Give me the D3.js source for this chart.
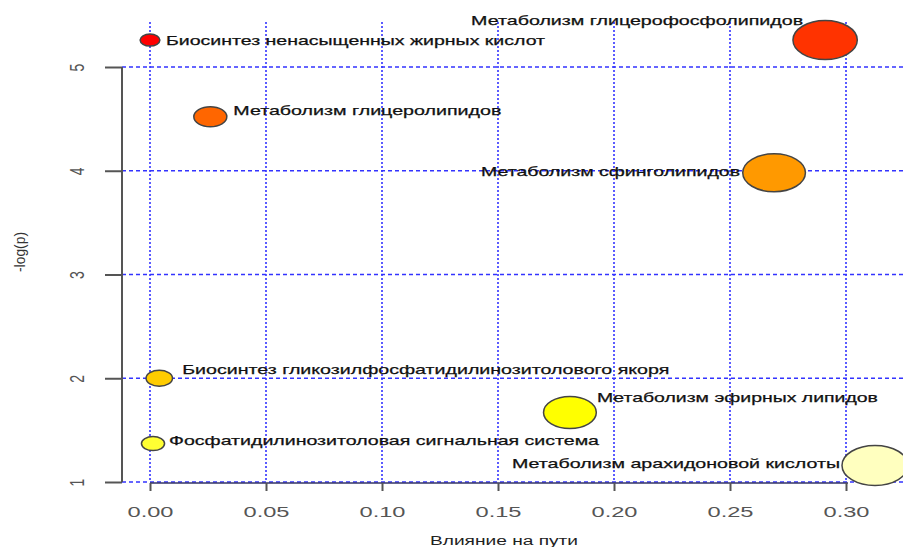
<!DOCTYPE html>
<html>
<head>
<meta charset="utf-8">
<script src="https://cdn.jsdelivr.net/npm/d3@7"></script>
<style>
  body { margin: 0; background: #fff; }
  svg { display: block; font-family: "Liberation Sans", Arial, sans-serif; }
  .lbl { font-size: 13px; fill: #111; stroke: #111; stroke-width: 0.25px; }
</style>
</head>
<body>
<svg id="chart"></svg>
<script>
// pathway impact plot (-log(p) vs pathway impact)
const pathways = [
  'Биосинтез ненасыщенных жирных кислот',
  'Метаболизм глицерофосфолипидов',
  'Метаболизм глицеролипидов',
  'Метаболизм сфинголипидов',
  'Биосинтез гликозилфосфатидилинозитолового якоря',
  'Метаболизм эфирных липидов',
  'Фосфатидилинозитоловая сигнальная система',
  'Метаболизм арахидоновой кислоты'
];
const impact = [0.0, 0.291, 0.026, 0.269, 0.004, 0.181, 0.0013, 0.3125];
const logP = [5.26, 5.26, 4.52, 3.98, 2.0, 1.67, 1.37, 1.16];
const bubbleSize = [6, 19.5, 10, 19, 8, 16, 7, 20];
const colors = ['#ff0000', '#ff3300', '#ff6600', '#ff9900', '#ffcc00', '#ffff00', '#ffff33', '#ffffbf'];

const xTicks = [0, 0.05, 0.10, 0.15, 0.20, 0.25, 0.30];
const yTicks = [1, 2, 3, 4, 5];

// label placement: anchor side + nudge (px), width of label text
const labelLayout = [
  {anchor: 'start', dx: 16, dy: 0,   w: 379},
  {anchor: 'end',   dx: -22, dy: -20, w: 332},
  {anchor: 'start', dx: 23, dy: -6,  w: 268},
  {anchor: 'end',   dx: -34, dy: -1, w: 259},
  {anchor: 'start', dx: 23, dy: -9,  w: 487},
  {anchor: 'start', dx: 27, dy: -15, w: 281},
  {anchor: 'start', dx: 16, dy: -3,  w: 430},
  {anchor: 'end',   dx: -35, dy: -2, w: 328}
];

const width = 903, height = 547;
const aspect = 1.65; // plot is stretched horizontally

const svg = d3.select('#chart')
  .attr('width', width)
  .attr('height', height);

const x = d3.scaleLinear().domain([0, 0.30]).range([150, 846]);
const y = d3.scaleLinear().domain([1, 5]).range([482, 67]);

const grid = svg.append('g').attr('class', 'grid');

grid.selectAll('.hgrid')
  .data(yTicks)
  .join('line')
    .attr('class', 'hgrid')
    .attr('x1', 122).attr('x2', width)
    .attr('y1', d => y(d)).attr('y2', d => y(d))
    .attr('stroke', '#3333ff')
    .attr('stroke-width', 1.3)
    .attr('stroke-dasharray', '4,3');

// x axis baseline
svg.append('line')
  .attr('x1', x(0)).attr('x2', x(0.30) + 2)
  .attr('y1', y(1) + 1).attr('y2', y(1) + 1)
  .attr('stroke', '#333366')
  .attr('stroke-width', 1.3);

grid.selectAll('.vgrid')
  .data(xTicks)
  .join('line')
    .attr('class', 'vgrid')
    .attr('x1', d => x(d)).attr('x2', d => x(d))
    .attr('y1', 22).attr('y2', y(1))
    .attr('stroke', '#3333ff')
    .attr('stroke-width', 1.6)
    .attr('stroke-dasharray', '2,2');

// x axis
const xAxisG = svg.append('g')
  .attr('transform', `translate(0, ${y(1) + 1})`)
  .call(d3.axisBottom(x).tickValues(xTicks).tickSize(8).tickFormat(d3.format('.2f')));
xAxisG.select('.domain').remove();
xAxisG.selectAll('.tick line').attr('stroke', '#555').attr('stroke-width', 2);
xAxisG.selectAll('.tick text')
  .attr('y', 0).attr('dy', null)
  .attr('transform', 'translate(0, 34)')
  .attr('textLength', 46)
  .attr('lengthAdjust', 'spacingAndGlyphs')
  .style('font-size', '15px')
  .attr('fill', '#555');

// y axis
const yAxisG = svg.append('g')
  .attr('transform', 'translate(122, 0)')
  .call(d3.axisLeft(y).tickValues(yTicks).tickSize(17).tickFormat(d3.format('d')));
yAxisG.select('.domain')
  .attr('d', `M0,${y(5)}V${y(1)}`)
  .attr('stroke', '#555').attr('stroke-width', 2);
yAxisG.selectAll('.tick line').attr('stroke', '#555').attr('stroke-width', 2);
yAxisG.selectAll('.tick text')
  .attr('x', 0)
  .attr('transform', 'translate(-38, 0) rotate(-90) scale(1, 1.4)')
  .attr('text-anchor', 'middle')
  .attr('dy', 0)
  .style('font-size', '14px')
  .attr('fill', '#555');

// axis titles
svg.append('text')
  .attr('x', 504).attr('y', 545)
  .attr('text-anchor', 'middle')
  .attr('textLength', 148)
  .attr('lengthAdjust', 'spacingAndGlyphs')
  .style('font-size', '12px')
  .attr('fill', '#222')
  .text('Влияние на пути');

svg.append('text')
  .attr('transform', 'translate(25, 252) rotate(-90)')
  .attr('text-anchor', 'middle')
  .attr('textLength', 40)
  .attr('lengthAdjust', 'spacingAndGlyphs')
  .style('font-size', '15px')
  .attr('fill', '#333')
  .text('-log(p)');

// bubbles
const pts = pathways.map((name, i) => ({
  name, impact: impact[i], logP: logP[i], size: bubbleSize[i], color: colors[i], lay: labelLayout[i]
}));

svg.append('g').selectAll('ellipse')
  .data(pts)
  .join('ellipse')
    .attr('cx', d => x(d.impact))
    .attr('cy', d => y(d.logP))
    .attr('rx', d => d.size * aspect)
    .attr('ry', d => d.size)
    .attr('fill', d => d.color)
    .attr('stroke', '#444')
    .attr('stroke-width', 1.5);

svg.append('g').selectAll('text')
  .data(pts)
  .join('text')
    .attr('class', 'lbl')
    .attr('x', d => x(d.impact) + d.lay.dx)
    .attr('y', d => y(d.logP) + d.lay.dy)
    .attr('dy', '0.35em')
    .attr('text-anchor', d => d.lay.anchor)
    .attr('textLength', d => d.lay.w)
    .attr('lengthAdjust', 'spacingAndGlyphs')
    .text(d => d.name);
</script>
</body>
</html>
